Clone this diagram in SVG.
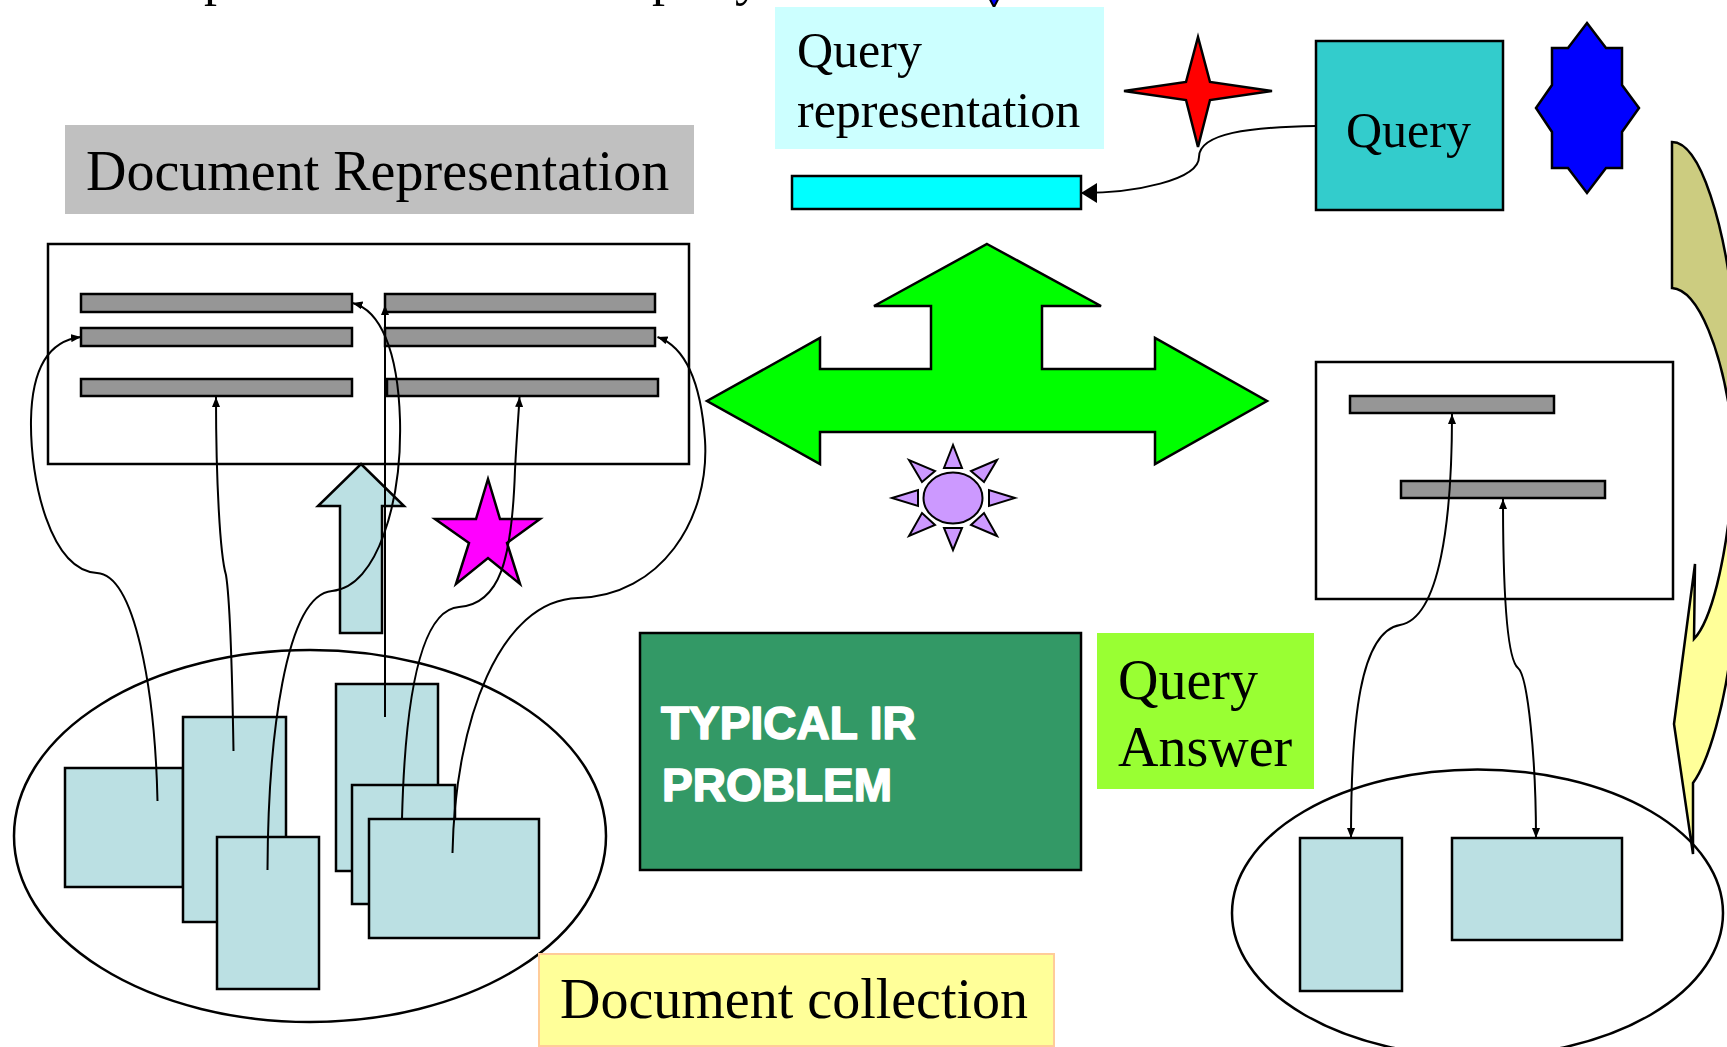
<svg xmlns="http://www.w3.org/2000/svg" width="1727" height="1047" viewBox="0 0 1727 1047">
  <defs>
    <style>
      .ln{fill:none;stroke:#000;stroke-width:2}
      .sh{stroke:#000;stroke-width:2.5}
      .doc{fill:#BBE0E3;stroke:#000;stroke-width:2.5}
      .bar{fill:#969696;stroke:#000;stroke-width:2.5}
      .frame{fill:#fff;stroke:#000;stroke-width:2.5}
      .serif{font-family:"Liberation Serif","Times New Roman",serif;fill:#000}
      .heavy{font-family:"Liberation Sans",Arial,sans-serif;font-weight:bold;font-size:46px;fill:#fff;stroke:#fff;stroke-width:1.6;stroke-linejoin:round}
    </style>
    <marker id="ah" viewBox="0 0 10 8" refX="10" refY="4" markerWidth="10" markerHeight="8" markerUnits="userSpaceOnUse" orient="auto-start-reverse">
      <path d="M0,0L10,4L0,8z" fill="#000"/>
    </marker>
    <marker id="ahBig" viewBox="0 0 16 20" refX="16" refY="10" markerWidth="16" markerHeight="20" markerUnits="userSpaceOnUse" orient="auto">
      <path d="M0,0L16,10L0,20z" fill="#000"/>
    </marker>
  </defs>

  <rect width="1727" height="1047" fill="#fff"/>

  <!-- title line, mostly above the top edge -->
  <g id="title">
    <text class="serif" font-size="52" y="-5"><tspan x="204">p</tspan><tspan x="652">p</tspan><tspan x="735">y</tspan></text>
    <polygon points="986,-8 1002,-8 994,7" fill="#0000FF" stroke="#000" stroke-width="2"/>
  </g>

  <!-- labels -->
  <g id="doc-rep-label">
    <rect x="65" y="125" width="629" height="89" fill="#C0C0C0"/>
    <text class="serif" x="86" y="190" font-size="56">Document Representation</text>
  </g>
  <g id="query-rep-label">
    <rect x="775" y="7" width="329" height="142" fill="#CCFFFF"/>
    <text class="serif" x="797" y="67" font-size="50">Query</text>
    <text class="serif" x="797" y="127" font-size="50">representation</text>
  </g>
  <g id="query-rep-bar">
    <rect x="792" y="176" width="289" height="33" fill="#00FFFF" class="sh"/>
  </g>
  <g id="red-star">
    <polygon class="sh" fill="#FF0000" points="1198,37 1210,82 1272,91 1210,100 1198,147 1186,100 1124,91 1186,82"/>
  </g>
  <g id="query">
    <rect x="1316" y="41" width="187" height="169" fill="#33CCCC" class="sh"/>
    <text class="serif" x="1346" y="147" font-size="50">Query</text>
  </g>
  <g id="blue-star">
    <polygon class="sh" fill="#0000FF" points="1587,23 1606,48 1622,48 1622,85 1639,108 1622,132 1622,168 1606,168 1587,193 1568,168 1552,168 1552,132 1536,108 1552,85 1552,48 1568,48"/>
  </g>

  <!-- curved arrow at the right edge -->
  <g id="curved-arrow">
    <path class="sh" fill="#CCCC80" d="M1672,142 C1703,142 1724,235 1731,290 L1745,290 L1745,420 L1731,420 C1722,355 1700,290 1672,288 Z"/>
    <path class="sh" fill="#FFFF99" d="M1694,639 L1695,564 L1674,724 L1693,854 L1693,783 C1710,760 1725,700 1731,650 L1745,650 L1745,500 L1731,500 C1725,560 1712,620 1694,639 Z"/>
  </g>

  <!-- document representation frame -->
  <g id="doc-rep">
    <rect class="frame" x="48" y="244" width="641" height="220"/>
    <rect class="bar" x="81" y="294" width="271" height="18"/>
    <rect class="bar" x="385" y="294" width="270" height="18"/>
    <rect class="bar" x="81" y="328" width="271" height="18"/>
    <rect class="bar" x="385" y="328" width="270" height="18"/>
    <rect class="bar" x="81" y="379" width="271" height="17"/>
    <rect class="bar" x="387" y="379" width="271" height="17"/>
  </g>

  <g id="three-way-arrow">
    <polygon class="sh" fill="#00FF00" points="987,244 1101,306 1042,306 1042,369 1155,369 1155,338 1267,401 1155,464 1155,432 820,432 820,464 707,401 820,338 820,369 931,369 931,306 874,306"/>
  </g>

  <g id="sun" fill="#CC99FF" stroke="#000" stroke-width="2">
    <ellipse cx="953" cy="498" rx="29.5" ry="25.5"/>
    <polygon points="953,445 944,468 962,468"/>
    <polygon points="953,550 944,528 962,528"/>
    <polygon points="892,498 918,490 918,506"/>
    <polygon points="1015,498 989,490 989,506"/>
    <polygon points="909,460 922,482 935,471"/>
    <polygon points="997,460 971,471 984,482"/>
    <polygon points="909,536 922,513 935,525"/>
    <polygon points="997,536 971,525 984,513"/>
  </g>

  <g id="up-arrow">
    <polygon class="sh" fill="#BBE0E3" points="361,464 404,506 382,506 382,633 340,633 340,506 318,506"/>
  </g>

  <g id="magenta-star">
    <polygon class="sh" fill="#FF00FF" points="488,479 500,519 540,519 507,543 520,584 488,558 456,584 469,543 435,519 476,519"/>
  </g>

  <!-- document collection -->
  <g id="doc-collection">
    <ellipse cx="310" cy="836" rx="296" ry="186" fill="none" stroke="#000" stroke-width="2.5"/>
    <rect class="doc" x="65" y="768" width="118" height="119"/>
    <rect class="doc" x="183" y="717" width="103" height="205"/>
    <rect class="doc" x="217" y="837" width="102" height="152"/>
    <rect class="doc" x="336" y="684" width="102" height="187"/>
    <rect class="doc" x="352" y="785" width="103" height="119"/>
    <rect class="doc" x="369" y="819" width="170" height="119"/>
  </g>
  <g id="doc-collection-label">
    <rect x="539" y="954" width="515" height="92" fill="#FFFF99" stroke="#FFCC99" stroke-width="2"/>
    <text class="serif" x="560" y="1018" font-size="56">Document collection</text>
  </g>

  <g id="typical-ir">
    <rect x="640" y="633" width="441" height="237" fill="#339966" class="sh"/>
    <text class="heavy" x="661" y="739">TYPICAL IR</text>
    <text class="heavy" x="662" y="801">PROBLEM</text>
  </g>

  <g id="query-answer-label">
    <rect x="1097" y="633" width="217" height="156" fill="#99FF33"/>
    <text class="serif" x="1118" y="699" font-size="56">Query</text>
    <text class="serif" x="1118" y="766" font-size="56">Answer</text>
  </g>

  <!-- answer side -->
  <g id="answer-rep">
    <rect class="frame" x="1316" y="362" width="357" height="237"/>
    <rect class="bar" x="1350" y="396" width="204" height="17"/>
    <rect class="bar" x="1401" y="481" width="204" height="17"/>
  </g>
  <g id="answer-docs">
    <ellipse cx="1477.5" cy="913" rx="245.5" ry="143.5" fill="none" stroke="#000" stroke-width="2.5"/>
    <rect class="doc" x="1300" y="838" width="102" height="153"/>
    <rect class="doc" x="1452" y="838" width="170" height="102"/>
  </g>

  <!-- connectors -->
  <g id="connectors" class="ln">
    <path marker-end="url(#ahBig)" d="M1316,126 C1250,127 1199,133 1199,157 C1199,180 1135,193 1081,193"/>
    <path marker-end="url(#ah)" d="M157.5,801 C155,690 135,575 97,573 C50,570 30,480 31,420 C32,360 55,340 81,337"/>
    <path marker-end="url(#ah)" d="M233.5,751 C232,660 230,600 226,575 C220,555 216,480 216,397"/>
    <path marker-end="url(#ah)" d="M267.5,870 C268,740 285,595 332,591 C378,587 402,500 400,420 C398,350 380,310 352.5,303"/>
    <path marker-end="url(#ah)" d="M385,717 L385,305"/>
    <path marker-end="url(#ah)" d="M402,819 C405,700 420,610 459,607 C500,604 512,560 515,470 C517,430 519,410 519.5,397"/>
    <path marker-end="url(#ah)" d="M452.5,853 C455,720 500,600 578,598 C660,596 710,520 705,440 C700,370 680,345 657.5,337"/>
    <path marker-start="url(#ah)" marker-end="url(#ah)" d="M1452,414 C1452,520 1440,618 1400,625 C1360,632 1351,720 1351,838"/>
    <path marker-start="url(#ah)" marker-end="url(#ah)" d="M1503,499 C1503,600 1508,660 1518,668 C1528,676 1536,760 1536,838"/>
  </g>
</svg>
